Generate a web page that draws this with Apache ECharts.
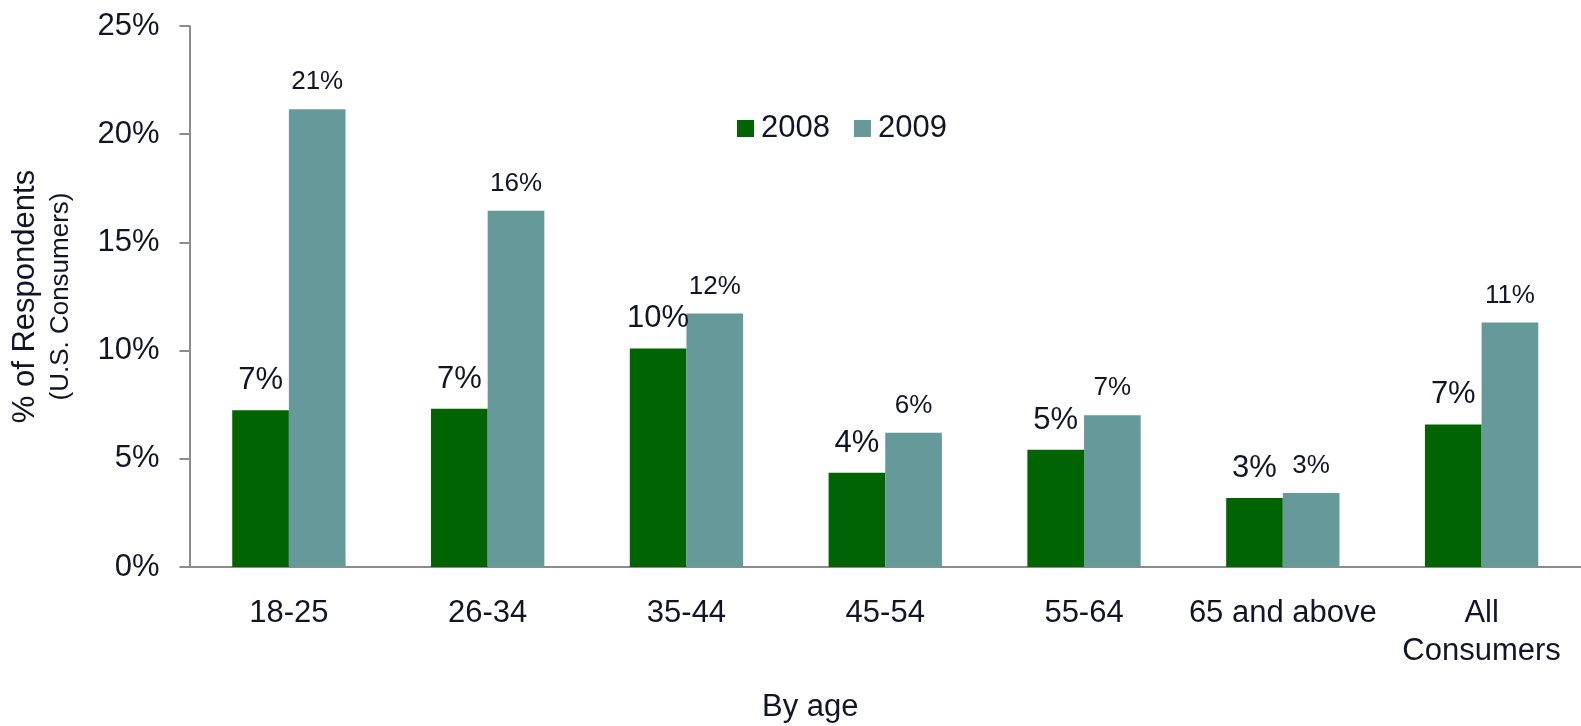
<!DOCTYPE html>
<html>
<head>
<meta charset="utf-8">
<script src="https://cdn.jsdelivr.net/npm/echarts@6/dist/echarts.min.js"></script>
<style>html,body{margin:0;padding:0;background:#fff;}#c{width:1581px;height:726px;}</style>
</head>
<body>
<div id="c"></div>
<script>
var categories = ['18-25', '26-34', '35-44', '45-54', '55-64', '65 and above', 'All\nConsumers'];
var values2008 = [7.24, 7.31, 10.10, 4.36, 5.42, 3.19, 6.59];
var values2009 = [21.15, 16.46, 11.72, 6.20, 7.01, 3.42, 11.30];
var yTicks = [0, 5, 10, 15, 20, 25];

var textColor = '#141428';
var axisColor = '#8c8c8c';
var font = 'Liberation Sans, Arial, sans-serif';

var chart = echarts.init(document.getElementById('c'));
chart.setOption({
  animation: false,
  textStyle: { fontFamily: font, color: textColor },
  title: {
    text: 'By age', left: 757, top: 687,
    textStyle: { fontFamily: font, fontSize: 31, fontWeight: 'normal', color: textColor }
  },
  legend: {
    data: ['2008', '2009'],
    left: 732, top: 108,
    icon: 'rect', itemWidth: 17, itemHeight: 17, itemGap: 24,
    textStyle: { fontFamily: font, fontSize: 31, color: textColor, padding: [0, 0, 0, 2] }
  },
  grid: { left: 189.5, right: -15.5, top: 26, bottom: 159, containLabel: false },
  xAxis: {
    type: 'category',
    data: categories,
    axisLine: { lineStyle: { color: axisColor, width: 2 } },
    axisTick: { length: 9, lineStyle: { color: axisColor, width: 2 } },
    axisLabel: { fontFamily: font, fontSize: 31, color: textColor, margin: 27, lineHeight: 38, interval: 0 }
  },
  yAxis: {
    type: 'value',
    min: yTicks[0], max: yTicks[yTicks.length - 1], interval: 5,
    splitLine: { show: false },
    axisLine: { show: true, lineStyle: { color: axisColor, width: 2 } },
    axisTick: { show: true, length: 10, lineStyle: { color: axisColor, width: 2 } },
    axisLabel: { fontFamily: font, fontSize: 31, color: textColor, margin: 30, formatter: '{value}%' },
    name: '{a|% of Respondents}\n{b|(U.S. Consumers)}',
    nameLocation: 'middle',
    nameRotate: 90,
    nameGap: 112,
    nameTextStyle: {
      rich: {
        a: { fontFamily: font, fontSize: 31, color: textColor, lineHeight: 38 },
        b: { fontFamily: font, fontSize: 26, color: textColor, lineHeight: 33 }
      }
    }
  },
  series: [
    {
      name: '2008', type: 'bar', data: values2008,
      barGap: '0%', barCategoryGap: '43%',
      itemStyle: { color: '#006400' },
      label: {
        show: true, position: 'top', distance: 14,
        fontFamily: font, fontSize: 31, color: textColor,
        formatter: function (p) { return Math.round(p.value) + '%'; }
      }
    },
    {
      name: '2009', type: 'bar', data: values2009,
      barGap: '0%', barCategoryGap: '43%',
      itemStyle: { color: '#669999' },
      label: {
        show: true, position: 'top', distance: 14,
        fontFamily: font, fontSize: 26, color: textColor,
        formatter: function (p) { return Math.round(p.value) + '%'; }
      }
    }
  ]
});
</script>
</body>
</html>
